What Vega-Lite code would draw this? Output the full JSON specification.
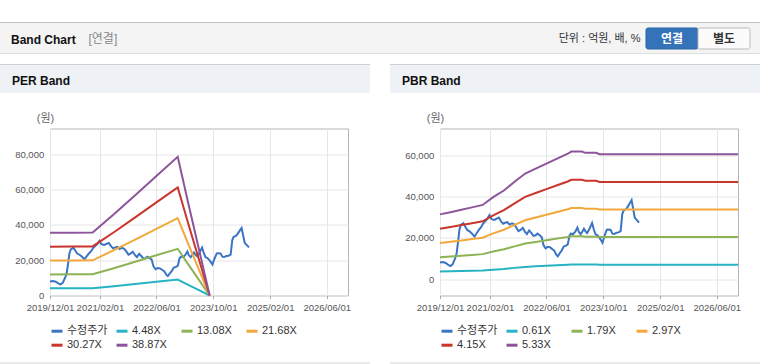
{
"$schema": "https://vega.github.io/schema/vega-lite/v6.json",
"padding": {"top": 22, "left": 0, "right": 0, "bottom": 0},
"background": "#ffffff",
"config": {
  "font": "Liberation Sans, Noto Sans CJK KR, sans-serif",
  "view": {"stroke": null},
  "axis": {"labelFontSize": 9.5, "labelColor": "#555555", "gridColor": "#e6e6e6", "domain": false},
  "legend": {"orient": "none", "legendX": 50, "legendY": 260.2, "direction": "horizontal", "columns": 4, "symbolType": "stroke", "symbolSize": 121, "symbolStrokeWidth": 3, "labelFontSize": 11, "labelColor": "#333333", "labelOffset": 3, "columnPadding": 2, "rowPadding": 1, "gridAlign": "all", "padding": 0}
},
"datasets": {
  "one": [{"k": 1}],
  "btn": [{"btn": "연결"}, {"btn": "별도"}],
  "price": [
    {"date":"2019-12-01","series":"수정주가","value":8000},{"date":"2019-12-25","series":"수정주가","value":8200},{"date":"2020-01-19","series":"수정주가","value":7800},{"date":"2020-02-13","series":"수정주가","value":6700},{"date":"2020-03-01","series":"수정주가","value":6300},{"date":"2020-03-19","series":"수정주가","value":7200},{"date":"2020-04-07","series":"수정주가","value":9800},{"date":"2020-04-22","series":"수정주가","value":12500},{"date":"2020-05-04","series":"수정주가","value":18000},{"date":"2020-05-16","series":"수정주가","value":24000},{"date":"2020-05-28","series":"수정주가","value":26200},{"date":"2020-06-19","series":"수정주가","value":27100},{"date":"2020-07-04","series":"수정주가","value":25500},{"date":"2020-07-22","series":"수정주가","value":23800},{"date":"2020-08-13","series":"수정주가","value":23000},{"date":"2020-09-01","series":"수정주가","value":22000},{"date":"2020-09-22","series":"수정주가","value":20600},{"date":"2020-10-10","series":"수정주가","value":22200},{"date":"2020-10-28","series":"수정주가","value":23700},{"date":"2020-11-16","series":"수정주가","value":25000},{"date":"2020-12-04","series":"수정주가","value":26800},{"date":"2020-12-22","series":"수정주가","value":28000},{"date":"2021-01-10","series":"수정주가","value":29200},{"date":"2021-01-28","series":"수정주가","value":31000},{"date":"2021-02-13","series":"수정주가","value":29200},{"date":"2021-02-28","series":"수정주가","value":28800},{"date":"2021-03-16","series":"수정주가","value":28800},{"date":"2021-04-04","series":"수정주가","value":29400},{"date":"2021-04-19","series":"수정주가","value":29800},{"date":"2021-05-07","series":"수정주가","value":28000},{"date":"2021-05-25","series":"수정주가","value":26800},{"date":"2021-06-13","series":"수정주가","value":27300},{"date":"2021-07-01","series":"수정주가","value":27600},{"date":"2021-07-19","series":"수정주가","value":26400},{"date":"2021-08-10","series":"수정주가","value":27000},{"date":"2021-08-28","series":"수정주가","value":26500},{"date":"2021-09-16","series":"수정주가","value":25000},{"date":"2021-10-04","series":"수정주가","value":23200},{"date":"2021-10-22","series":"수정주가","value":23800},{"date":"2021-11-10","series":"수정주가","value":24800},{"date":"2021-11-28","series":"수정주가","value":23000},{"date":"2021-12-16","series":"수정주가","value":21800},{"date":"2022-01-04","series":"수정주가","value":23600},{"date":"2022-01-22","series":"수정주가","value":22400},{"date":"2022-02-10","series":"수정주가","value":20900},{"date":"2022-02-28","series":"수정주가","value":21200},{"date":"2022-03-16","series":"수정주가","value":22000},{"date":"2022-04-04","series":"수정주가","value":21200},{"date":"2022-04-22","series":"수정주가","value":20300},{"date":"2022-05-07","series":"수정주가","value":16500},{"date":"2022-05-25","series":"수정주가","value":14900},{"date":"2022-06-13","series":"수정주가","value":15600},{"date":"2022-07-01","series":"수정주가","value":15400},{"date":"2022-07-19","series":"수정주가","value":14600},{"date":"2022-08-07","series":"수정주가","value":13800},{"date":"2022-08-25","series":"수정주가","value":11800},{"date":"2022-09-07","series":"수정주가","value":11000},{"date":"2022-09-22","series":"수정주가","value":12400},{"date":"2022-10-10","series":"수정주가","value":13800},{"date":"2022-10-28","series":"수정주가","value":15800},{"date":"2022-11-16","series":"수정주가","value":16200},{"date":"2022-12-01","series":"수정주가","value":16800},{"date":"2022-12-16","series":"수정주가","value":21000},{"date":"2022-12-28","series":"수정주가","value":22000},{"date":"2023-01-16","series":"수정주가","value":21800},{"date":"2023-02-04","series":"수정주가","value":23000},{"date":"2023-02-22","series":"수정주가","value":25000},{"date":"2023-03-07","series":"수정주가","value":22800},{"date":"2023-03-22","series":"수정주가","value":21700},{"date":"2023-04-07","series":"수정주가","value":23200},{"date":"2023-04-19","series":"수정주가","value":24400},{"date":"2023-05-04","series":"수정주가","value":23000},{"date":"2023-05-16","series":"수정주가","value":22300},{"date":"2023-06-07","series":"수정주가","value":24500},{"date":"2023-06-28","series":"수정주가","value":27200},{"date":"2023-07-13","series":"수정주가","value":24000},{"date":"2023-07-28","series":"수정주가","value":21700},{"date":"2023-08-13","series":"수정주가","value":21200},{"date":"2023-08-28","series":"수정주가","value":20200},{"date":"2023-09-13","series":"수정주가","value":18800},{"date":"2023-09-25","series":"수정주가","value":17600},{"date":"2023-10-13","series":"수정주가","value":21000},{"date":"2023-11-01","series":"수정주가","value":23900},{"date":"2023-11-19","series":"수정주가","value":24000},{"date":"2023-12-04","series":"수정주가","value":23800},{"date":"2023-12-19","series":"수정주가","value":22000},{"date":"2024-01-04","series":"수정주가","value":21800},{"date":"2024-01-22","series":"수정주가","value":22400},{"date":"2024-02-10","series":"수정주가","value":22600},{"date":"2024-02-28","series":"수정주가","value":23200},{"date":"2024-03-13","series":"수정주가","value":31500},{"date":"2024-03-25","series":"수정주가","value":33300},{"date":"2024-04-13","series":"수정주가","value":33800},{"date":"2024-04-28","series":"수정주가","value":35000},{"date":"2024-05-16","series":"수정주가","value":36800},{"date":"2024-06-01","series":"수정주가","value":38300},{"date":"2024-06-13","series":"수정주가","value":34500},{"date":"2024-06-28","series":"수정주가","value":29800},{"date":"2024-07-16","series":"수정주가","value":28600},{"date":"2024-08-04","series":"수정주가","value":27300}
  ],
  "per": [
    {"date":"2019-12-01","series":"4.48X","value":4099},{"date":"2020-06-01","series":"4.48X","value":4108},{"date":"2020-12-01","series":"4.48X","value":4122},{"date":"2021-06-01","series":"4.48X","value":5309},{"date":"2021-12-01","series":"4.48X","value":6563},{"date":"2022-06-01","series":"4.48X","value":7818},{"date":"2022-12-01","series":"4.48X","value":9072},{"date":"2023-03-01","series":"4.48X","value":6048},{"date":"2023-06-01","series":"4.48X","value":3024},{"date":"2023-09-01","series":"4.48X","value":0},
    {"date":"2019-12-01","series":"13.08X","value":11968},{"date":"2020-06-01","series":"13.08X","value":11994},{"date":"2020-12-01","series":"13.08X","value":12034},{"date":"2021-06-01","series":"13.08X","value":15500},{"date":"2021-12-01","series":"13.08X","value":19162},{"date":"2022-06-01","series":"13.08X","value":22825},{"date":"2022-12-01","series":"13.08X","value":26487},{"date":"2023-03-01","series":"13.08X","value":17658},{"date":"2023-06-01","series":"13.08X","value":8829},{"date":"2023-09-01","series":"13.08X","value":0},
    {"date":"2019-12-01","series":"21.68X","value":19837},{"date":"2020-06-01","series":"21.68X","value":19881},{"date":"2020-12-01","series":"21.68X","value":19946},{"date":"2021-06-01","series":"21.68X","value":25691},{"date":"2021-12-01","series":"21.68X","value":31761},{"date":"2022-06-01","series":"21.68X","value":37832},{"date":"2022-12-01","series":"21.68X","value":43902},{"date":"2023-03-01","series":"21.68X","value":29268},{"date":"2023-06-01","series":"21.68X","value":14634},{"date":"2023-09-01","series":"21.68X","value":0},
    {"date":"2019-12-01","series":"30.27X","value":27697},{"date":"2020-06-01","series":"30.27X","value":27758},{"date":"2020-12-01","series":"30.27X","value":27848},{"date":"2021-06-01","series":"30.27X","value":35870},{"date":"2021-12-01","series":"30.27X","value":44346},{"date":"2022-06-01","series":"30.27X","value":52821},{"date":"2022-12-01","series":"30.27X","value":61297},{"date":"2023-03-01","series":"30.27X","value":40865},{"date":"2023-06-01","series":"30.27X","value":20432},{"date":"2023-09-01","series":"30.27X","value":0},
    {"date":"2019-12-01","series":"38.87X","value":35566},{"date":"2020-06-01","series":"38.87X","value":35644},{"date":"2020-12-01","series":"38.87X","value":35760},{"date":"2021-06-01","series":"38.87X","value":46061},{"date":"2021-12-01","series":"38.87X","value":56945},{"date":"2022-06-01","series":"38.87X","value":67828},{"date":"2022-12-01","series":"38.87X","value":78712},{"date":"2023-03-01","series":"38.87X","value":52475},{"date":"2023-06-01","series":"38.87X","value":26237},{"date":"2023-09-01","series":"38.87X","value":0}
  ],
  "pbr": [
    {"date":"2019-12-01","series":"0.61X","value":3587},{"date":"2020-03-01","series":"0.61X","value":3709},{"date":"2020-06-01","series":"0.61X","value":3843},{"date":"2020-09-01","series":"0.61X","value":3977},{"date":"2020-12-01","series":"0.61X","value":4111},{"date":"2021-03-01","series":"0.61X","value":4545},{"date":"2021-06-01","series":"0.61X","value":4911},{"date":"2021-09-01","series":"0.61X","value":5399},{"date":"2021-12-01","series":"0.61X","value":5856},{"date":"2022-03-01","series":"0.61X","value":6131},{"date":"2022-06-01","series":"0.61X","value":6405},{"date":"2022-09-01","series":"0.61X","value":6680},{"date":"2022-12-01","series":"0.61X","value":6954},{"date":"2023-01-01","series":"0.61X","value":7076},{"date":"2023-04-01","series":"0.61X","value":7076},{"date":"2023-05-01","series":"0.61X","value":7003},{"date":"2023-08-01","series":"0.61X","value":7003},{"date":"2023-09-01","series":"0.61X","value":6924},{"date":"2026-12-01","series":"0.61X","value":6924},
    {"date":"2019-12-01","series":"1.79X","value":10525},{"date":"2020-03-01","series":"1.79X","value":10883},{"date":"2020-06-01","series":"1.79X","value":11277},{"date":"2020-09-01","series":"1.79X","value":11671},{"date":"2020-12-01","series":"1.79X","value":12065},{"date":"2021-03-01","series":"1.79X","value":13336},{"date":"2021-06-01","series":"1.79X","value":14410},{"date":"2021-09-01","series":"1.79X","value":15842},{"date":"2021-12-01","series":"1.79X","value":17184},{"date":"2022-03-01","series":"1.79X","value":17990},{"date":"2022-06-01","series":"1.79X","value":18795},{"date":"2022-09-01","series":"1.79X","value":19601},{"date":"2022-12-01","series":"1.79X","value":20406},{"date":"2023-01-01","series":"1.79X","value":20764},{"date":"2023-04-01","series":"1.79X","value":20764},{"date":"2023-05-01","series":"1.79X","value":20549},{"date":"2023-08-01","series":"1.79X","value":20549},{"date":"2023-09-01","series":"1.79X","value":20317},{"date":"2026-12-01","series":"1.79X","value":20317},
    {"date":"2019-12-01","series":"2.97X","value":17464},{"date":"2020-03-01","series":"2.97X","value":18058},{"date":"2020-06-01","series":"2.97X","value":18711},{"date":"2020-09-01","series":"2.97X","value":19364},{"date":"2020-12-01","series":"2.97X","value":20018},{"date":"2021-03-01","series":"2.97X","value":22127},{"date":"2021-06-01","series":"2.97X","value":23909},{"date":"2021-09-01","series":"2.97X","value":26285},{"date":"2021-12-01","series":"2.97X","value":28512},{"date":"2022-03-01","series":"2.97X","value":29849},{"date":"2022-06-01","series":"2.97X","value":31185},{"date":"2022-09-01","series":"2.97X","value":32522},{"date":"2022-12-01","series":"2.97X","value":33858},{"date":"2023-01-01","series":"2.97X","value":34452},{"date":"2023-04-01","series":"2.97X","value":34452},{"date":"2023-05-01","series":"2.97X","value":34096},{"date":"2023-08-01","series":"2.97X","value":34096},{"date":"2023-09-01","series":"2.97X","value":33710},{"date":"2026-12-01","series":"2.97X","value":33710},
    {"date":"2019-12-01","series":"4.15X","value":24402},{"date":"2020-03-01","series":"4.15X","value":25232},{"date":"2020-06-01","series":"4.15X","value":26145},{"date":"2020-09-01","series":"4.15X","value":27058},{"date":"2020-12-01","series":"4.15X","value":27971},{"date":"2021-03-01","series":"4.15X","value":30918},{"date":"2021-06-01","series":"4.15X","value":33408},{"date":"2021-09-01","series":"4.15X","value":36728},{"date":"2021-12-01","series":"4.15X","value":39840},{"date":"2022-03-01","series":"4.15X","value":41708},{"date":"2022-06-01","series":"4.15X","value":43575},{"date":"2022-09-01","series":"4.15X","value":45443},{"date":"2022-12-01","series":"4.15X","value":47310},{"date":"2023-01-01","series":"4.15X","value":48140},{"date":"2023-04-01","series":"4.15X","value":48140},{"date":"2023-05-01","series":"4.15X","value":47642},{"date":"2023-08-01","series":"4.15X","value":47642},{"date":"2023-09-01","series":"4.15X","value":47103},{"date":"2026-12-01","series":"4.15X","value":47103},
    {"date":"2019-12-01","series":"5.33X","value":31340},{"date":"2020-03-01","series":"5.33X","value":32406},{"date":"2020-06-01","series":"5.33X","value":33579},{"date":"2020-09-01","series":"5.33X","value":34752},{"date":"2020-12-01","series":"5.33X","value":35924},{"date":"2021-03-01","series":"5.33X","value":39709},{"date":"2021-06-01","series":"5.33X","value":42907},{"date":"2021-09-01","series":"5.33X","value":47171},{"date":"2021-12-01","series":"5.33X","value":51168},{"date":"2022-03-01","series":"5.33X","value":53567},{"date":"2022-06-01","series":"5.33X","value":55965},{"date":"2022-09-01","series":"5.33X","value":58364},{"date":"2022-12-01","series":"5.33X","value":60762},{"date":"2023-01-01","series":"5.33X","value":61828},{"date":"2023-04-01","series":"5.33X","value":61828},{"date":"2023-05-01","series":"5.33X","value":61188},{"date":"2023-08-01","series":"5.33X","value":61188},{"date":"2023-09-01","series":"5.33X","value":60496},{"date":"2026-12-01","series":"5.33X","value":60496}
  ]
},
"resolve": {"scale": {"color": "independent"}, "legend": {"color": "independent"}},
"columns": 1,
"spacing": 10,
"concat": [
  {"columns": 1, "spacing": 0, "concat": [
    {"width": 760, "height": 1, "data": {"name": "one"}, "mark": {"type": "rect", "color": "#c4c4c4"}},
    {"width": 760, "height": 30, "data": {"name": "btn"},
     "view": {"fill": "#f4f4f4", "stroke": null},
     "title": {"text": "Band Chart", "anchor": "start", "offset": -21, "dy": 11.5, "dx": 11, "fontSize": 12, "fontWeight": "bold", "color": "#111111", "baseline": "alphabetic"},
     "encoding": {
       "x": {"field": "btn", "type": "nominal", "sort": null,
             "scale": {"type": "band", "domain": ["연결", "별도"], "range": [646, 750], "paddingInner": 0, "paddingOuter": 0},
             "axis": {"title": "[연결]", "labels": false, "ticks": false, "domain": false, "grid": false, "titleX": 88, "titleY": -15, "titleAlign": "left", "titleBaseline": "middle", "titleFontSize": 12, "titleFontWeight": "normal", "titleColor": "#888888"}},
       "y": {"datum": "b", "type": "nominal",
             "scale": {"type": "band", "domain": ["b"], "range": [5, 26], "paddingInner": 0, "paddingOuter": 0},
             "axis": {"title": "단위 : 억원, 배, %", "labels": false, "ticks": false, "domain": false, "grid": false, "titleAngle": 0, "titleX": 640, "titleY": 15.5, "titleAlign": "right", "titleBaseline": "middle", "titleFontSize": 11, "titleFontWeight": "normal", "titleColor": "#333333"}}
     },
     "layer": [
       {"mark": {"type": "rect", "cornerRadius": 2, "strokeWidth": 1},
        "encoding": {
          "fill": {"field": "btn", "type": "nominal", "scale": {"domain": ["연결", "별도"], "range": ["#3573b8", "#fbfbfb"]}, "legend": null},
          "stroke": {"field": "btn", "type": "nominal", "scale": {"domain": ["연결", "별도"], "range": ["#2b64a6", "#bbbbbb"]}, "legend": null}}},
       {"mark": {"type": "text", "fontSize": 12, "fontWeight": "bold", "baseline": "middle"},
        "encoding": {
          "text": {"field": "btn"},
          "color": {"field": "btn", "type": "nominal", "scale": {"domain": ["연결", "별도"], "range": ["#ffffff", "#333333"]}, "legend": null}}}
     ]},
    {"width": 760, "height": 1, "data": {"name": "one"}, "mark": {"type": "rect", "color": "#dedede"}}
  ]},
  {"columns": 2, "spacing": 20, "resolve": {"scale": {"color": "independent"}, "legend": {"color": "independent"}}, "concat": [
    {"columns": 1, "spacing": 18.5, "concat": [
      {"columns": 1, "spacing": 0, "concat": [
        {"width": 370, "height": 1, "data": {"name": "one"}, "mark": {"type": "rect", "color": "#d0d0d0"}},
        {"width": 370, "height": 28, "data": {"name": "one"}, "mark": {"type": "rect", "color": "#eef1f6"},
         "title": {"text": "PER Band", "anchor": "start", "offset": -19, "dy": 13, "dx": 12, "fontSize": 12, "fontWeight": "bold", "color": "#111111", "baseline": "alphabetic"}}
      ]},
      {"columns": 1, "spacing": 50, "concat": [
        {"columns": 2, "spacing": 0, "concat": [
          {"width": 1, "height": 1, "data": {"name": "one"}, "mark": {"type": "rect", "opacity": 0}},
          {"width": 298, "height": 167,
           "view": {"stroke": "#b5b5b5"},
           "encoding": {
             "x": {"field": "date", "type": "temporal",
                   "scale": {"type": "utc", "nice": false, "domain": [{"year": 2019, "month": 12, "date": 1, "utc": true}, {"year": 2026, "month": 12, "date": 1, "utc": true}]},
                   "axis": {"title": null, "format": "%Y/%m/%d", "labelFlush": false, "labelOverlap": false, "labelPadding": 4, "ticks": true, "tickSize": 3, "tickColor": "#aaaaaa", "grid": true,
                            "values": [{"year": 2019, "month": 12, "date": 1, "utc": true}, {"year": 2021, "month": 2, "date": 1, "utc": true}, {"year": 2022, "month": 6, "date": 1, "utc": true}, {"year": 2023, "month": 10, "date": 1, "utc": true}, {"year": 2025, "month": 2, "date": 1, "utc": true}, {"year": 2026, "month": 6, "date": 1, "utc": true}]}},
             "y": {"field": "value", "type": "quantitative",
                   "scale": {"domain": [0, 94750], "nice": false, "zero": false},
                   "axis": {"title": "(원)", "titleAngle": 0, "titleX": -5, "titleY": -10, "titleAlign": "center", "titleBaseline": "middle", "titleFontSize": 11, "titleFontWeight": "normal", "titleColor": "#666666",
                            "values": [0, 20000, 40000, 60000, 80000], "format": ",d", "ticks": true, "tickSize": 48.3, "tickOpacity": 0, "labelPadding": -42, "grid": true}},
             "color": {"field": "series", "type": "nominal",
                       "scale": {"domain": ["수정주가", "4.48X", "13.08X", "21.68X", "30.27X", "38.87X"], "range": ["#3b74c2", "#26b3c3", "#8db356", "#f3a83b", "#c9352b", "#8c559b"]},
                       "legend": {"title": null}}
           },
           "layer": [
             {"data": {"name": "price"}, "mark": {"type": "line", "strokeWidth": 2}},
             {"data": {"name": "per"}, "mark": {"type": "line", "strokeWidth": 2}}
           ]}
        ]},
        {"width": 370, "height": 1, "data": {"name": "one"}, "mark": {"type": "rect", "color": "#d6d6d6"}}
      ]}
    ]},
    {"columns": 1, "spacing": 18.5, "concat": [
      {"columns": 1, "spacing": 0, "concat": [
        {"width": 370, "height": 1, "data": {"name": "one"}, "mark": {"type": "rect", "color": "#d0d0d0"}},
        {"width": 370, "height": 28, "data": {"name": "one"}, "mark": {"type": "rect", "color": "#eef1f6"},
         "title": {"text": "PBR Band", "anchor": "start", "offset": -19, "dy": 13, "dx": 12, "fontSize": 12, "fontWeight": "bold", "color": "#111111", "baseline": "alphabetic"}}
      ]},
      {"columns": 1, "spacing": 50, "concat": [
        {"columns": 2, "spacing": 0, "concat": [
          {"width": 1, "height": 1, "data": {"name": "one"}, "mark": {"type": "rect", "opacity": 0}},
          {"width": 298, "height": 167,
           "view": {"stroke": "#b5b5b5"},
           "encoding": {
             "x": {"field": "date", "type": "temporal",
                   "scale": {"type": "utc", "nice": false, "domain": [{"year": 2019, "month": 12, "date": 1, "utc": true}, {"year": 2026, "month": 12, "date": 1, "utc": true}]},
                   "axis": {"title": null, "format": "%Y/%m/%d", "labelFlush": false, "labelOverlap": false, "labelPadding": 4, "ticks": true, "tickSize": 3, "tickColor": "#aaaaaa", "grid": true,
                            "values": [{"year": 2019, "month": 12, "date": 1, "utc": true}, {"year": 2021, "month": 2, "date": 1, "utc": true}, {"year": 2022, "month": 6, "date": 1, "utc": true}, {"year": 2023, "month": 10, "date": 1, "utc": true}, {"year": 2025, "month": 2, "date": 1, "utc": true}, {"year": 2026, "month": 6, "date": 1, "utc": true}]}},
             "y": {"field": "value", "type": "quantitative",
                   "scale": {"domain": [-8000, 73000], "nice": false, "zero": false},
                   "axis": {"title": "(원)", "titleAngle": 0, "titleX": -5, "titleY": -10, "titleAlign": "center", "titleBaseline": "middle", "titleFontSize": 11, "titleFontWeight": "normal", "titleColor": "#666666",
                            "values": [0, 20000, 40000, 60000], "format": ",d", "ticks": true, "tickSize": 48.3, "tickOpacity": 0, "labelPadding": -42, "grid": true}},
             "color": {"field": "series", "type": "nominal",
                       "scale": {"domain": ["수정주가", "0.61X", "1.79X", "2.97X", "4.15X", "5.33X"], "range": ["#3b74c2", "#26b3c3", "#8db356", "#f3a83b", "#c9352b", "#8c559b"]},
                       "legend": {"title": null}}
           },
           "layer": [
             {"data": {"name": "price"}, "mark": {"type": "line", "strokeWidth": 2}},
             {"data": {"name": "pbr"}, "mark": {"type": "line", "strokeWidth": 2}}
           ]}
        ]},
        {"width": 370, "height": 1, "data": {"name": "one"}, "mark": {"type": "rect", "color": "#d6d6d6"}}
      ]}
    ]}
  ]}
]
}
